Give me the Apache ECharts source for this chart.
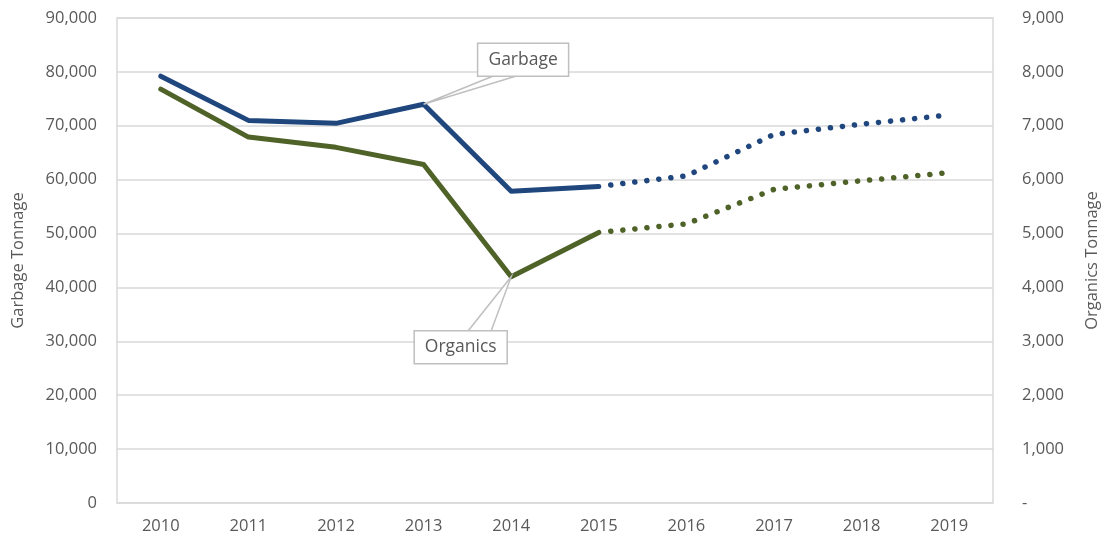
<!DOCTYPE html>
<html>
  <head>
    <meta charset='UTF-8'>
    <title>Garbage and Organics Tonnage</title>
    <script src="https://cdn.jsdelivr.net/npm/echarts@6/dist/echarts.min.js"></script>
    <style>
      html, body { margin: 0; padding: 0; background: #fff; }
    </style>
  </head>
  <body>
    <div id="main" style="width: 1111px;height:546px;"></div>
    <script type="text/javascript">
    // data
    var years = ['2010', '2011', '2012', '2013', '2014', '2015', '2016', '2017', '2018', '2019'];
    var garbage = [79200, 71000, 70450, 74000, 57850, 58750, 60700, 68400, 70300, 72000];
    var organics = [7680, 6790, 6600, 6280, 4200, 5020, 5180, 5820, 5980, 6130];
    var lastActual = 5; // 2015, projection starts here

    var blue = '#1F477D';
    var green = '#4F6228';
    var textColor = '#595959';
    var font = 'Open Sans';

    function actual(arr) {
        return arr.map(function (v, i) { return i <= lastActual ? v : '-'; });
    }
    function projected(arr) {
        return arr.map(function (v, i) { return i >= lastActual ? v : '-'; });
    }

    var myChart = echarts.init(document.getElementById('main'));

    var option = {
        animation: false,
        textStyle: { fontFamily: font, color: textColor },
        grid: {
            left: 117, right: 118, top: 18, bottom: 43,
            outerBoundsMode: 'none', containLabel: false,
            show: true, borderColor: '#d9d9d9', borderWidth: 1.5
        },
        xAxis: {
            type: 'category',
            data: years,
            boundaryGap: true,
            axisLine: { show: false },
            axisTick: { show: false },
            axisLabel: { color: textColor, fontSize: 16.5, margin: 15, fontFamily: font }
        },
        yAxis: [
            {
                type: 'value', min: 0, max: 90000, interval: 10000,
                name: 'Garbage Tonnage', nameLocation: 'middle', nameGap: 90, nameRotate: 90,
                nameTextStyle: { color: textColor, fontSize: 16.5, fontFamily: font },
                axisLine: { show: false }, axisTick: { show: false },
                splitLine: { lineStyle: { color: '#d9d9d9', width: 1.5 } },
                axisLabel: {
                    color: textColor, fontSize: 16.5, margin: 20, fontFamily: font,
                    formatter: function (v) { return v.toLocaleString('en-US'); }
                }
            },
            {
                type: 'value', min: 0, max: 9000, interval: 1000,
                name: 'Organics Tonnage', nameLocation: 'middle', nameGap: 91, nameRotate: 90,
                nameTextStyle: { color: textColor, fontSize: 16.5, fontFamily: font },
                axisLine: { show: false }, axisTick: { show: false },
                splitLine: { show: false },
                axisLabel: {
                    color: textColor, fontSize: 16.5, margin: 29, fontFamily: font, align: 'left',
                    formatter: function (v) { return v === 0 ? '-' : v.toLocaleString('en-US'); }
                }
            }
        ],
        series: [
            {
                name: 'Garbage', type: 'line', yAxisIndex: 0, data: actual(garbage),
                symbol: 'none', lineStyle: { color: blue, width: 5, cap: 'round', join: 'round' }, z: 3
            },
            {
                name: 'Garbage projected', type: 'line', yAxisIndex: 0, data: projected(garbage),
                symbol: 'none',
                lineStyle: { color: blue, width: 5.5, type: [0.1, 12], cap: 'round', dashOffset: -12 }, z: 3
            },
            {
                name: 'Organics', type: 'line', yAxisIndex: 1, data: actual(organics),
                symbol: 'none', lineStyle: { color: green, width: 5, cap: 'round', join: 'round' }, z: 3
            },
            {
                name: 'Organics projected', type: 'line', yAxisIndex: 1, data: projected(organics),
                symbol: 'none',
                lineStyle: { color: green, width: 5.5, type: [0.1, 12], cap: 'round', dashOffset: -12 }, z: 3
            }
        ]
    };
    myChart.setOption(option, true);

    // callout labels anchored on data points
    function callout(p, box, a, b, label) {
        var edge = box.y + (box.up ? box.h : 0);
        return [
            {
                type: 'polygon', z: 10,
                shape: { points: [[box.x + a, edge], p, [box.x + b, edge]] },
                style: { fill: '#fff', stroke: '#bfbfbf', lineWidth: 1.5 }
            },
            {
                type: 'rect', z: 11,
                shape: { x: box.x, y: box.y, width: box.w, height: box.h },
                style: { fill: '#fff', stroke: '#bfbfbf', lineWidth: 1.5 }
            },
            {
                type: 'text', z: 12,
                x: box.x + box.w / 2, y: box.y + box.h / 2,
                style: {
                    text: label, fill: textColor, fontSize: 17.5, fontFamily: font,
                    align: 'center', verticalAlign: 'middle'
                }
            }
        ];
    }

    var gp = myChart.convertToPixel({ seriesIndex: 0 }, [3, garbage[3]]);
    var op = myChart.convertToPixel({ seriesIndex: 2 }, [4, organics[4]]);
    var gBox = { x: gp[0] + 54, y: gp[1] - 61, w: 91, h: 33, up: true };
    var oBox = { x: op[0] - 97, y: op[1] + 54, w: 93, h: 33, up: false };

    myChart.setOption({
        graphic: callout(gp, gBox, 15, 38, 'Garbage').concat(callout(op, oBox, 54, 77, 'Organics'))
    });
     </script>
  </body>
</html>
